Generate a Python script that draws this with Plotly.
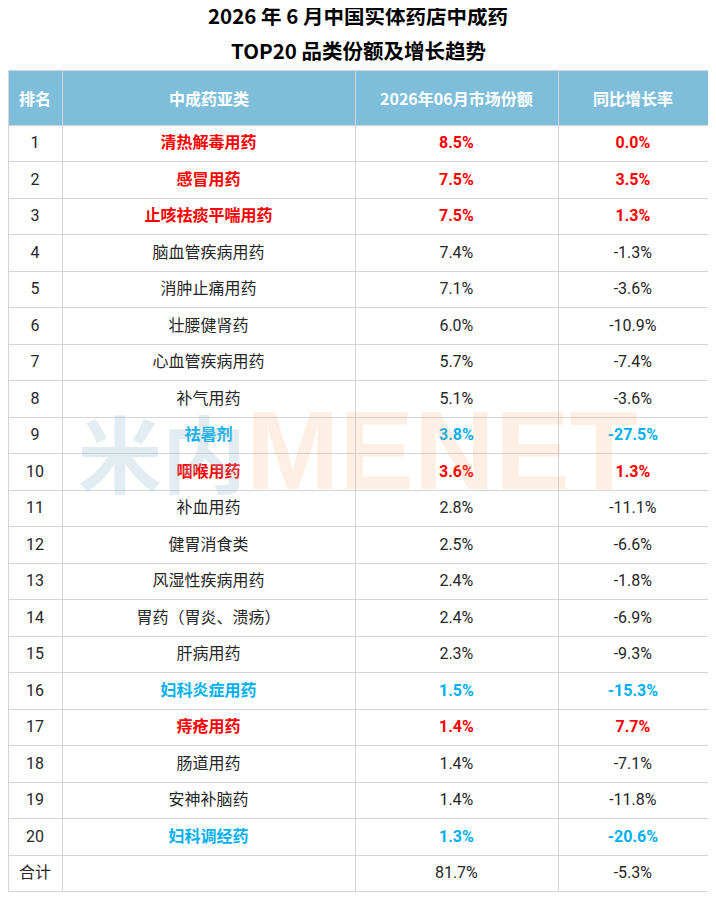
import plotly.graph_objects as go

# 数据
ranks = [str(i) for i in range(1, 21)] + ["合计"]
categories = ["清热解毒用药", "感冒用药", "止咳祛痰平喘用药", "脑血管疾病用药", "消肿止痛用药",
              "壮腰健肾药", "心血管疾病用药", "补气用药", "祛暑剂", "咽喉用药",
              "补血用药", "健胃消食类", "风湿性疾病用药", "胃药（胃炎、溃疡）", "肝病用药",
              "妇科炎症用药", "痔疮用药", "肠道用药", "安神补脑药", "妇科调经药", ""]
shares = ["8.5%", "7.5%", "7.5%", "7.4%", "7.1%", "6.0%", "5.7%", "5.1%", "3.8%", "3.6%",
          "2.8%", "2.5%", "2.4%", "2.4%", "2.3%", "1.5%", "1.4%", "1.4%", "1.4%", "1.3%", "81.7%"]
growth = ["0.0%", "3.5%", "1.3%", "-1.3%", "-3.6%", "-10.9%", "-7.4%", "-3.6%", "-27.5%", "1.3%",
          "-11.1%", "-6.6%", "-1.8%", "-6.9%", "-9.3%", "-15.3%", "7.7%", "-7.1%", "-11.8%", "-20.6%", "-5.3%"]
# 高亮: r=红色, b=蓝色, 空=普通
highlight = ["r", "r", "r", "", "", "", "", "", "b", "r",
             "", "", "", "", "", "b", "r", "", "", "b", ""]
headers = ["排名", "中成药亚类", "2026年06月市场份额", "同比增长率"]

RED = "#ff0000"
BLUE = "#00b0f0"
DARK = "#262626"
FONT = "Noto Sans CJK SC"
CELL_FONT = "Roboto, Noto Sans CJK SC"

# 页面 body 有 8px 边距, 图按 700x885 画
W, H, OFF = 700, 885, 8
colw = [54, 293, 203, 150]

hl_colors = [RED if h == "r" else BLUE if h == "b" else DARK for h in highlight]


def fmt(vals, bold=True):
    # 每个格子都带标签, 这样所有行的文字垂直位置一致
    return [f"<b>{v}</b>" if (h and bold) else f"<span>{v}</span>" for v, h in zip(vals, highlight)]


fig = go.Figure(go.Table(
    domain=dict(x=[0, 1], y=[0, 1 - (70 - OFF) / H]),
    columnwidth=colw,
    header=dict(
        values=["", "", "", ""],
        fill_color="#7fbedb",
        line=dict(color="#d4d4d4", width=1),
        height=55,
    ),
    cells=dict(
        values=[fmt(ranks, bold=False), fmt(categories), fmt(shares), fmt(growth)],
        fill_color="white",
        line=dict(color="#d4d4d4", width=1),
        font=dict(color=[[DARK] * len(ranks), hl_colors, hl_colors, hl_colors],
                  size=16, family=CELL_FONT),
        align="center",
        height=36.5,
    ),
))

# 表头文字 (居中)
left = 0
for h, w in zip(headers, colw):
    fig.add_annotation(text=f"<b>{h}</b>", x=(left + w / 2) / W, y=1 - (98 - OFF) / H,
                       xref="paper", yref="paper", showarrow=False,
                       xanchor="center", yanchor="middle",
                       font=dict(size=16, color="white", family=FONT))
    left += w

# 水印
fig.add_annotation(text="<b>米内</b>", x=(162 - OFF) / W, y=1 - (450 - OFF) / H,
                   xref="paper", yref="paper", showarrow=False,
                   xanchor="center", yanchor="middle",
                   font=dict(size=84, color="rgba(150,190,205,0.27)", family=FONT))
fig.add_annotation(text="<b>MENET</b>", x=(442 - OFF) / W, y=1 - (450 - OFF) / H,
                   xref="paper", yref="paper", showarrow=False,
                   xanchor="center", yanchor="middle",
                   font=dict(size=112, color="rgba(245,160,90,0.17)", family="Liberation Sans"))

# 标题两行
for txt, ypx in [("2026 年 6 月中国实体药店中成药", 15), ("TOP20 品类份额及增长趋势", 50)]:
    fig.add_annotation(text=f"<b>{txt}</b>", x=0.5, y=1 - (ypx - OFF) / H,
                       xref="paper", yref="paper", showarrow=False,
                       xanchor="center", yanchor="middle",
                       font=dict(size=20.5, color="black", family=FONT))

fig.update_layout(
    width=W,
    height=H,
    margin=dict(t=0, b=0, l=0, r=0),
    paper_bgcolor="white",
)

fig.write_html("out.html")
